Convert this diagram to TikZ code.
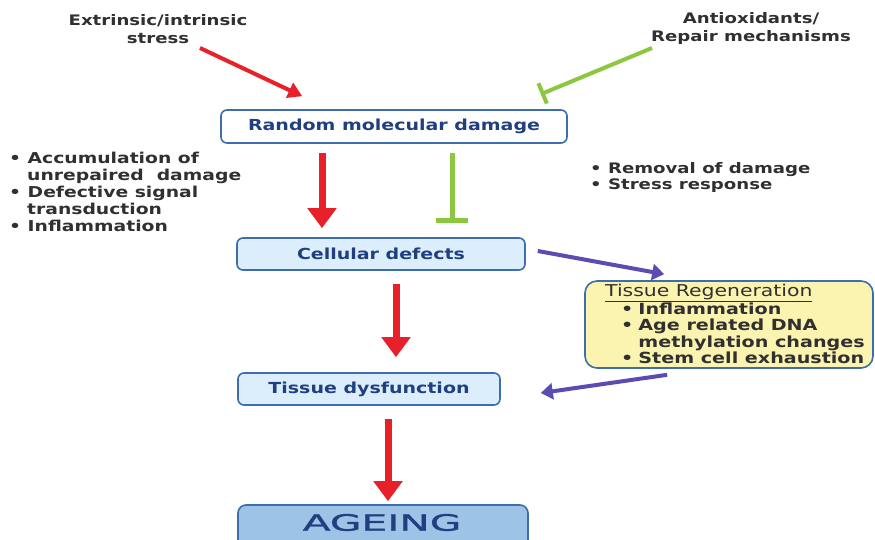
\documentclass[tikz,border=0pt]{standalone}
\usepackage{fontspec}
\usepackage{graphicx}
\setmainfont{DejaVu Sans}[FakeStretch=1.25]
\newfontfamily\agfont{DejaVu Sans}[FakeStretch=1.25,FakeBold=1.2]
\usetikzlibrary{arrows.meta,calc}
\definecolor{bord}{HTML}{3D6DB0}
\definecolor{txtblue}{HTML}{1F3F80}
\definecolor{lblue}{HTML}{DCEEFB}
\definecolor{mblue}{HTML}{9DC3E6}
\definecolor{ylw}{HTML}{FBF3B0}
\definecolor{arred}{HTML}{E8202A}
\definecolor{argreen}{HTML}{8DC63F}
\definecolor{arpurp}{HTML}{5A4DB2}
\definecolor{txtgray}{HTML}{303030}
\tikzset{
  box/.style={draw=bord, line width=1.6pt, rounded corners=6pt, text=txtblue, inner sep=0pt, font=\bfseries\fontsize{15.2}{18}\selectfont},
  lbl/.style={text=txtgray, align=left, inner sep=0pt, font=\bfseries\fontsize{15}{17}\selectfont},
  redarr/.style={draw=arred, line width=7pt, -{Triangle[length=20pt,width=28pt]}},
  reddiag/.style={draw=arred, line width=4pt, -{Triangle[length=14pt,width=16pt]}},
  greenbar/.style={draw=argreen, line width=5pt, -{Bar[width=32pt]}},
  greendiag/.style={draw=argreen, line width=4pt, -{Bar[width=22pt]}},
  purparr/.style={draw=arpurp, line width=4pt, -{Triangle[length=12pt,width=16pt]}}
}
\begin{document}
\begin{tikzpicture}[x=1pt,y=-1pt]
\useasboundingbox[fill=white] (0,0) rectangle (875,540);
\node[box, fill=white, minimum width=346pt, minimum height=33pt] (rmd) at (394,126.5) {Random molecular damage};
\node[box, fill=lblue, minimum width=288pt, minimum height=32pt] (cd) at (381,254) {Cellular defects};
\node[box, fill=lblue, minimum width=262pt, minimum height=32pt] (td) at (369,389) {Tissue dysfunction};
\node[box, fill=mblue, minimum width=290pt, minimum height=44pt, rounded corners=8pt] (ag) at (383,527) {};
\node[text=txtblue, inner sep=0pt, font=\agfont\fontsize{22.5}{24}\selectfont] (agt) at (382,522.5) {\scalebox{1.45}[1]{AGEING}};
\node[box, fill=ylw, minimum width=288pt, minimum height=87pt, rounded corners=12pt] (tr) at (729,324.5) {};
\node[lbl, anchor=north west, font=\bfseries\fontsize{15.3}{16.5}\selectfont] (trt) at (605,283.5) {{\mdseries\fontsize{16.3}{16.5}\selectfont\underline{Tissue Regeneration}}\\
\hspace*{16pt}\textbullet\hspace{5pt}Inflammation\\
\hspace*{16pt}\textbullet\hspace{5pt}Age related DNA\\
\hspace*{16pt}\phantom{\textbullet}\hspace{5pt}methylation changes\\
\hspace*{16pt}\textbullet\hspace{5pt}Stem cell exhaustion};
\node[lbl, align=center, font=\bfseries\fontsize{14.5}{18}\selectfont] (stress) at (158,29) {Extrinsic/intrinsic\\stress};
\node[lbl, align=center, font=\bfseries\fontsize{14.5}{18}\selectfont] (anti) at (751,29) {Antioxidants/\\Repair mechanisms};
\node[lbl, anchor=north west] (left) at (9,152) {\textbullet\ Accumulation of\\
\hspace*{18pt}unrepaired\ \ damage\\
\textbullet\ Defective signal\\
\hspace*{18pt}transduction\\
\textbullet\ Inflammation};
\node[lbl, anchor=north west, font=\bfseries\fontsize{14.5}{16.5}\selectfont] (right) at (590,162) {\textbullet\ Removal of damage\\
\textbullet\ Stress response};
\coordinate (s1) at (200,48);
\coordinate (a1) at (652,48);
\draw[reddiag] (s1) -- ($(rmd.north west)+(82,-13)$);
\draw[greendiag] (a1) -- ($(rmd.north east)+(-27,-15)$);
\draw[redarr] ($(rmd.south)+(-72,9)$) -- ($(cd.north)+(-59,-9)$);
\draw[greenbar] ($(rmd.south)+(58,9)$) -- ($(cd.north)+(71,-14)$);
\draw[redarr] ($(cd.south)+(15,13)$) -- ($(td.north)+(27,-15)$);
\draw[redarr] ($(td.south)+(19,13)$) -- ($(ag.north)+(5,-3)$);
\draw[purparr] ($(cd.east)+(12,-3)$) -- ($(tr.north west)+(80,-6)$);
\draw[purparr] ($(tr.south west)+(83,6)$) -- ($(td.east)+(40,4)$);
\end{tikzpicture}
\end{document}
